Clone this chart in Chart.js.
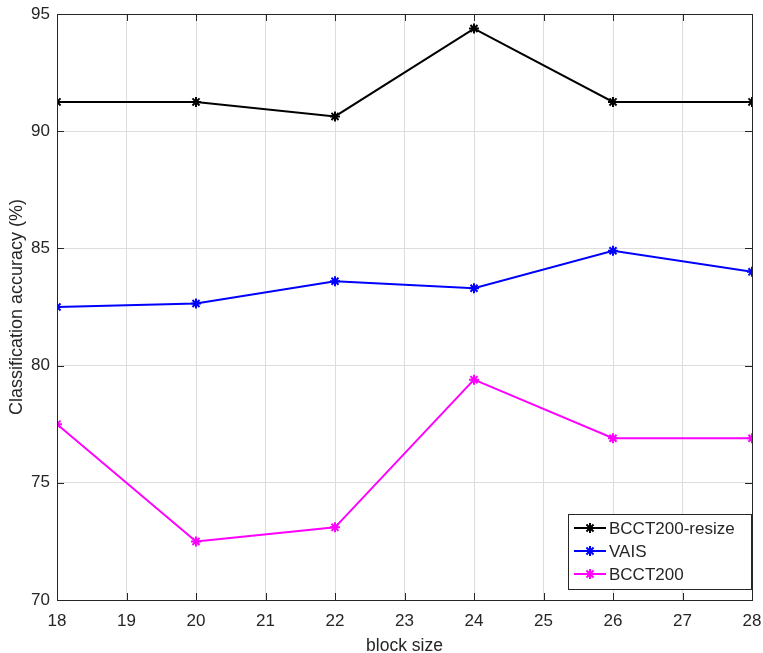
<!DOCTYPE html>
<html>
<head>
<meta charset="utf-8">
<script src="https://cdn.jsdelivr.net/npm/chart.js@4/dist/chart.umd.min.js"></script>
<style>
  html, body { margin: 0; padding: 0; background: #fff; }
  #wrap { width: 763px; height: 653px; }
</style>
</head>
<body>
<div id="wrap"><canvas id="accChart" width="763" height="653"></canvas></div>
<script>
// block sizes on the x axis
const blockSizes = [18, 20, 22, 24, 26, 28];

// classification accuracy (%) per series
const resizeAcc = [91.25, 91.25, 90.63, 94.38, 91.25, 91.25];
const vaisAcc = [82.5, 82.65, 83.6, 83.3, 84.9, 84.0];
const bcctAcc = [77.5, 72.5, 73.1, 79.4, 76.9, 76.9];

const seriesNames = ['BCCT200-resize', 'VAIS', 'BCCT200'];
const seriesColors = ['#000000', '#0000ff', '#ff00ff'];

const textColor = '#262626';
const fontFam = '"Liberation Sans", Arial, sans-serif';

function toPoints(vals) {
    return blockSizes.map((x, i) => ({ x: x, y: vals[i] }));
}

function makeSet(i, vals) {
    return {
        label: seriesNames[i],
        data: toPoints(vals),
        borderColor: seriesColors[i],
        backgroundColor: seriesColors[i],
        borderWidth: 2,
        pointStyle: 'star',
        pointRadius: 5,
        pointBorderWidth: 2,
        pointHoverRadius: 5,
        tension: 0
    };
}

// box around the axes, inward tick marks and the legend in the lower right
const matlabBox = {
    id: 'matlabBox',
    afterDatasetsDraw(chart) {
        const ctx = chart.ctx;
        const a = chart.chartArea;
        const xs = chart.scales.x;
        const ys = chart.scales.y;
        ctx.save();
        ctx.strokeStyle = textColor;
        ctx.lineWidth = 1;
        ctx.strokeRect(Math.round(a.left) + 0.5, Math.round(a.top) + 0.5,
            Math.round(a.right - a.left), Math.round(a.bottom - a.top));

        const tk = 7;
        ctx.beginPath();
        xs.ticks.forEach(t => {
            const px = Math.round(xs.getPixelForValue(t.value)) + 0.5;
            ctx.moveTo(px, a.bottom); ctx.lineTo(px, a.bottom - tk);
            ctx.moveTo(px, a.top); ctx.lineTo(px, a.top + tk);
        });
        ys.ticks.forEach(t => {
            const py = Math.round(ys.getPixelForValue(t.value)) + 0.5;
            ctx.moveTo(a.left, py); ctx.lineTo(a.left + tk, py);
            ctx.moveTo(a.right, py); ctx.lineTo(a.right - tk, py);
        });
        ctx.stroke();

        // legend
        const boxW = 183, rowH = 23;
        const boxH = rowH * seriesNames.length + 6;
        const bx = a.right - boxW - 1;
        const by = a.bottom - boxH - 11;
        ctx.fillStyle = '#fff';
        ctx.fillRect(bx, by, boxW, boxH);
        ctx.strokeStyle = textColor;
        ctx.strokeRect(Math.round(bx) + 0.5, Math.round(by) + 0.5, boxW, boxH);
        ctx.font = '17px ' + fontFam;
        ctx.textBaseline = 'middle';
        chart.data.datasets.forEach((ds, i) => {
            const cy = by + 14 + i * rowH;
            ctx.strokeStyle = ds.borderColor;
            ctx.lineWidth = 2;
            ctx.beginPath();
            ctx.moveTo(bx + 6, cy); ctx.lineTo(bx + 38, cy);
            ctx.stroke();
            Chart.helpers.drawPoint(ctx, { pointStyle: 'star', radius: 5, borderWidth: 2 }, bx + 22, cy);
            ctx.fillStyle = textColor;
            ctx.fillText(ds.label, bx + 41, cy + 1);
        });
        ctx.restore();
    }
};

new Chart(document.getElementById('accChart'), {
    type: 'line',
    data: {
        datasets: [makeSet(0, resizeAcc), makeSet(1, vaisAcc), makeSet(2, bcctAcc)]
    },
    options: {
        responsive: false,
        animation: false,
        layout: { padding: { top: 14, right: 11, left: 0, bottom: 0 } },
        plugins: {
            legend: { display: false },
            tooltip: { enabled: false }
        },
        scales: {
            x: {
                type: 'linear',
                min: 18,
                max: 28,
                ticks: { stepSize: 1, color: textColor, padding: 11, font: { size: 17, family: fontFam } },
                grid: { color: '#dedede', drawTicks: false },
                border: { display: false },
                title: { display: true, text: 'block size', color: textColor, padding: { top: 0, bottom: -4 }, font: { size: 17.5, family: fontFam } },
                afterFit(scale) {
                    scale.height = 53;
                    scale.paddingLeft = 0;
                    scale.paddingRight = 0;
                }
            },
            y: {
                min: 70,
                max: 95,
                ticks: { stepSize: 5, color: textColor, padding: 7, font: { size: 17, family: fontFam } },
                grid: { color: '#dedede', drawTicks: false },
                border: { display: false },
                title: { display: true, text: 'Classification accuracy (%)', color: textColor, padding: { top: 6, bottom: 0 }, font: { size: 18, family: fontFam } },
                afterFit(scale) {
                    scale.width = 57;
                    scale.paddingTop = 0;
                    scale.paddingBottom = 0;
                }
            }
        }
    },
    plugins: [matlabBox]
});
</script>
</body>
</html>
